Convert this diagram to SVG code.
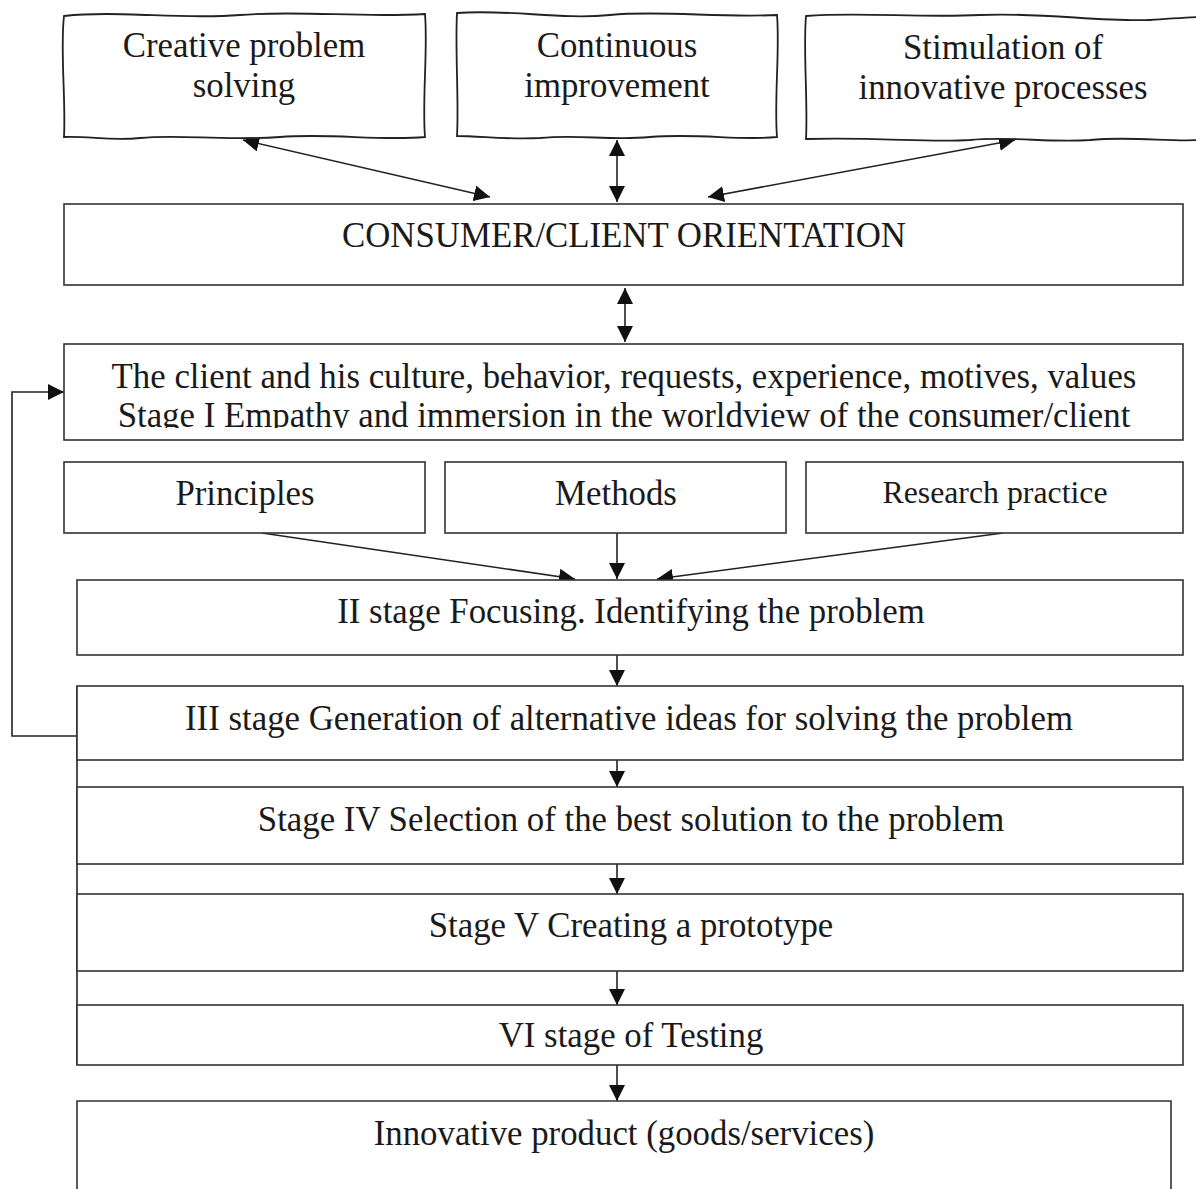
<svg xmlns="http://www.w3.org/2000/svg" width="1196" height="1189" viewBox="0 0 1196 1189">
<defs>
<style>
.box{fill:#fff;stroke:#333;stroke-width:1.6}
.wave{fill:#fff;stroke:#222;stroke-width:1.8}
.t{font-family:"Liberation Serif","Times New Roman",serif;font-size:34.8px;fill:#1a1a1a;text-anchor:middle}
.c{fill:none;stroke:#222;stroke-width:1.6}
</style>
<marker id="ah" viewBox="0 0 10 10" refX="10" refY="5" markerWidth="16" markerHeight="16" markerUnits="userSpaceOnUse" orient="auto-start-reverse">
<path d="M0,0 L10,5 L0,10 Z" fill="#111"/>
</marker>
<clipPath id="clipClient"><rect x="64" y="344" width="1119" height="84"/></clipPath>
</defs>
<rect width="1196" height="1189" fill="#fff"/>

<g id="connectors">
<line class="c" x1="243" y1="140" x2="490" y2="197" marker-start="url(#ah)" marker-end="url(#ah)"/>
<line class="c" x1="617" y1="140" x2="617" y2="202" marker-start="url(#ah)" marker-end="url(#ah)"/>
<line class="c" x1="1015" y1="140" x2="708" y2="197" marker-start="url(#ah)" marker-end="url(#ah)"/>
<line class="c" x1="625" y1="288" x2="625" y2="342" marker-start="url(#ah)" marker-end="url(#ah)"/>
<line class="c" x1="262" y1="533" x2="575" y2="579" marker-end="url(#ah)"/>
<line class="c" x1="617" y1="533" x2="617" y2="579" marker-end="url(#ah)"/>
<line class="c" x1="1003" y1="533" x2="657" y2="579" marker-end="url(#ah)"/>
<line class="c" x1="617" y1="655" x2="617" y2="686" marker-end="url(#ah)"/>
<line class="c" x1="617" y1="760" x2="617" y2="787" marker-end="url(#ah)"/>
<line class="c" x1="617" y1="864" x2="617" y2="894" marker-end="url(#ah)"/>
<line class="c" x1="617" y1="971" x2="617" y2="1005" marker-end="url(#ah)"/>
<line class="c" x1="617" y1="1065" x2="617" y2="1101" marker-end="url(#ah)"/>
<polyline class="c" points="77,736 12,736 12,392 64,392" marker-end="url(#ah)"/>
<line class="c" x1="77" y1="686" x2="77" y2="1065"/>
</g>

<g id="n-creative">
<path class="wave" d="M64,16 C120,10 180,20 240,15 C300,10 360,18 425,14 C428,50 422,100 425,137 C380,141 330,133 280,137 C220,141 180,134 140,138 C110,141 90,136 64,137 C66,100 60,50 64,16 Z"/>
<text class="t" x="244" y="57">Creative problem</text>
<text class="t" x="244" y="97">solving</text>
</g>
<g id="n-continuous">
<path class="wave" d="M457,13 C510,9 560,20 610,15 C660,10 720,18 777,15 C780,50 774,100 777,137 C740,141 700,133 650,137 C610,141 580,134 540,138 C510,140 480,136 457,136 C459,100 455,50 457,13 Z"/>
<text class="t" x="617" y="57">Continuous</text>
<text class="t" x="617" y="97">improvement</text>
</g>
<g id="n-stimulation">
<path class="wave" d="M806,16 C860,12 920,18 980,15 C1040,12 1100,22 1150,20 C1170,19 1185,17 1200,17 L1200,140 C1170,142 1130,136 1090,140 C1050,143 1010,136 970,140 C930,143 880,137 806,139 C808,100 803,50 806,16 Z"/>
<text class="t" x="1003" y="59">Stimulation of</text>
<text class="t" x="1003" y="99">innovative processes</text>
</g>

<g id="n-consumer">
<rect class="box" x="64" y="204" width="1119" height="81"/>
<text class="t" x="624" y="247">CONSUMER/CLIENT ORIENTATION</text>
</g>
<g id="n-client">
<rect class="box" x="64" y="344" width="1119" height="96"/>
<g clip-path="url(#clipClient)">
<text class="t" x="624" y="388">The client and his culture, behavior, requests, experience, motives, values</text>
<text class="t" x="624" y="427">Stage I Empathy and immersion in the worldview of the consumer/client</text>
</g>
</g>
<g id="n-principles">
<rect class="box" x="64" y="462" width="361" height="71"/>
<text class="t" x="245" y="505">Principles</text>
</g>
<g id="n-methods">
<rect class="box" x="445" y="462" width="341" height="71"/>
<text class="t" x="616" y="505">Methods</text>
</g>
<g id="n-research">
<rect class="box" x="806" y="462" width="377" height="71"/>
<text class="t" x="995" y="503" style="font-size:31.8px">Research practice</text>
</g>
<g id="n-stage2">
<rect class="box" x="77" y="580" width="1106" height="75"/>
<text class="t" x="631" y="623">II stage Focusing. Identifying the problem</text>
</g>
<g id="n-stage3">
<rect class="box" x="77" y="686" width="1106" height="74"/>
<text class="t" x="629" y="730">III stage Generation of alternative ideas for solving the problem</text>
</g>
<g id="n-stage4">
<rect class="box" x="77" y="787" width="1106" height="77"/>
<text class="t" x="631" y="831">Stage IV Selection of the best solution to the problem</text>
</g>
<g id="n-stage5">
<rect class="box" x="77" y="894" width="1106" height="77"/>
<text class="t" x="631" y="937">Stage V Creating a prototype</text>
</g>
<g id="n-stage6">
<rect class="box" x="77" y="1005" width="1106" height="60"/>
<text class="t" x="631" y="1047">VI stage of Testing</text>
</g>
<g id="n-product">
<path class="box" d="M77,1195 L77,1101 L1171,1101 L1171,1195"/>
<text class="t" x="624" y="1145">Innovative product (goods/services)</text>
</g>
</svg>
